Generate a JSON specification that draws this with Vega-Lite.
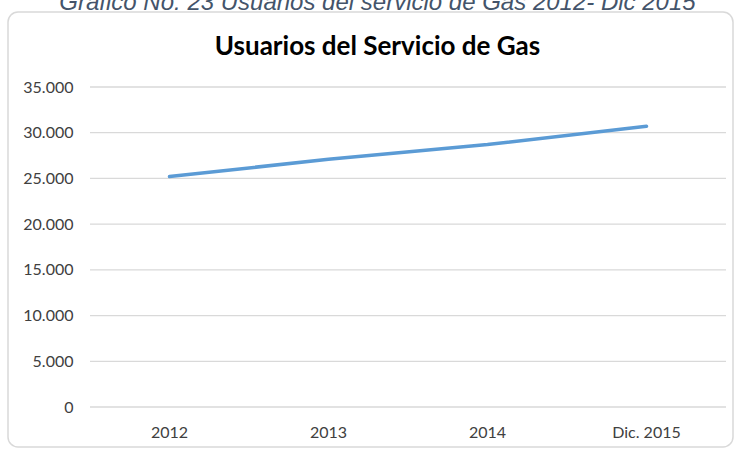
{
  "$schema": "https://vega.github.io/schema/vega-lite/v6.json",
  "autosize": {"type": "none"},
  "width": 725,
  "height": 435,
  "padding": {"left": 8, "top": 12, "right": 1, "bottom": 2},
  "background": "white",
  "title": {
    "text": "Gráfico No. 23 Usuarios del servicio de Gas 2012- Dic 2015",
    "subtitle": "Usuarios del Servicio de Gas",
    "anchor": "middle",
    "dx": 7,
    "offset": -48,
    "font": "Liberation Sans",
    "fontSize": 24,
    "fontStyle": "italic",
    "fontWeight": "normal",
    "color": "#44546A",
    "subtitleFont": "Lato",
    "subtitleFontSize": 26,
    "subtitleFontWeight": "bold",
    "subtitleColor": "#000000",
    "subtitlePadding": 19
  },
  "datasets": {
    "usuarios": [
      {"periodo": "2012", "usuarios": 25200},
      {"periodo": "2013", "usuarios": 27100},
      {"periodo": "2014", "usuarios": 28700},
      {"periodo": "Dic. 2015", "usuarios": 30700}
    ],
    "rejilla": [
      {"valor": 0}, {"valor": 5000}, {"valor": 10000}, {"valor": 15000},
      {"valor": 20000}, {"valor": 25000}, {"valor": 30000}, {"valor": 35000}
    ]
  },
  "layer": [
    {
      "data": {"name": "rejilla"},
      "mark": {"type": "rule", "color": "#D9D9D9", "strokeWidth": 1.3},
      "encoding": {
        "y": {"field": "valor", "type": "quantitative"},
        "x": {"datum": "2012", "type": "ordinal", "bandPosition": 0},
        "x2": {"datum": "Dic. 2015", "bandPosition": 1}
      }
    },
    {
      "data": {"name": "usuarios"},
      "mark": {"type": "line", "color": "#5B9BD5", "strokeWidth": 3.5, "strokeCap": "round"},
      "encoding": {
        "x": {
          "field": "periodo",
          "type": "ordinal",
          "sort": null,
          "scale": {
            "type": "band",
            "domain": ["2012", "2013", "2014", "Dic. 2015"],
            "paddingInner": 0,
            "paddingOuter": 0.2799,
            "align": 0.9213
          },
          "axis": {
            "title": null,
            "orient": "bottom",
            "offset": -40,
            "labelAngle": 0,
            "labelAlign": "center",
            "labelBaseline": "top",
            "domain": false,
            "ticks": false,
            "tickSize": 0,
            "grid": false,
            "labelFont": "Lato",
            "labelFontSize": 16,
            "labelColor": "#404040",
            "labelPadding": 17
          }
        },
        "y": {
          "field": "usuarios",
          "type": "quantitative",
          "scale": {"domain": [-4375, 43203.125], "nice": false, "zero": false},
          "axis": {
            "title": null,
            "orient": "left",
            "offset": -82,
            "values": [0, 5000, 10000, 15000, 20000, 25000, 30000, 35000],
            "format": ",d",
            "domain": false,
            "ticks": false,
            "tickSize": 0,
            "grid": false,
            "labelFont": "Lato",
            "labelFontSize": 16,
            "labelColor": "#404040",
            "labelPadding": 17
          }
        }
      }
    }
  ],
  "config": {
    "view": {"stroke": "#D9D9D9", "strokeWidth": 1.5, "cornerRadius": 10},
    "locale": {
      "number": {"decimal": ",", "thousands": ".", "grouping": [3], "currency": ["$", ""]}
    }
  }
}
